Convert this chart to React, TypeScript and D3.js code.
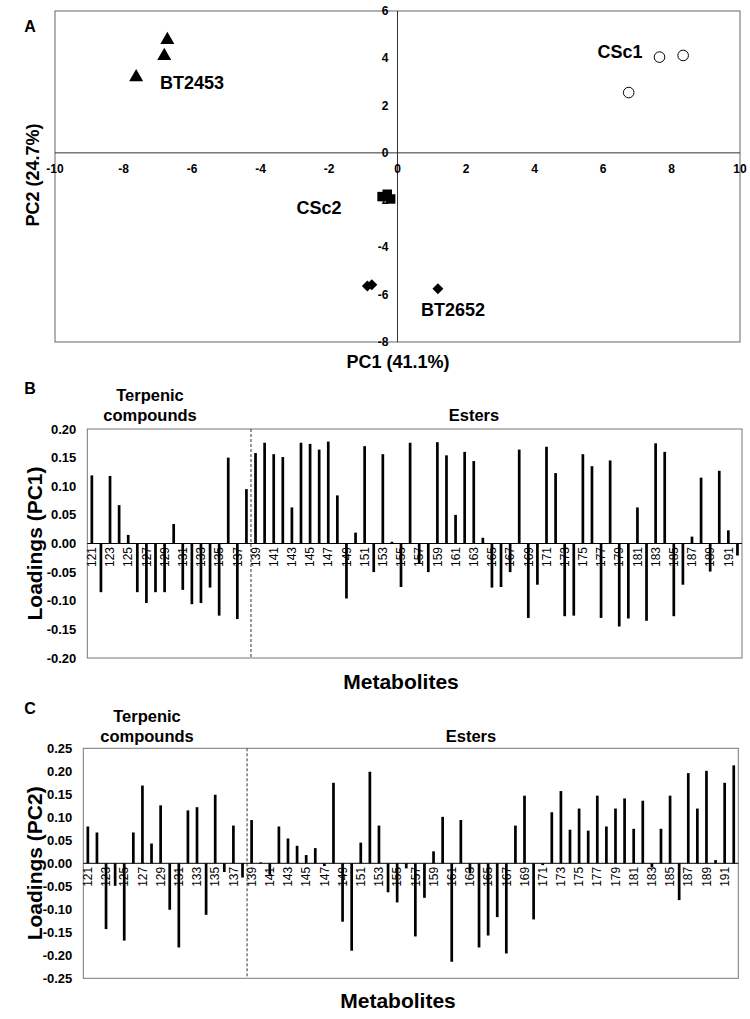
import React from "react";
import * as d3 from "d3";

// ---------- Panel A data (PCA scores) ----------
const bt2453 = [
  { x: -6.72, y: 4.78 },
  { x: -6.81, y: 4.1 },
  { x: -7.63, y: 3.2 },
];
const csc1 = [
  { x: 7.65, y: 4.05 },
  { x: 8.34, y: 4.12 },
  { x: 6.75, y: 2.55 },
];
const csc2 = [
  { x: -0.45, y: -1.85 },
  { x: -0.3, y: -1.75 },
  { x: -0.2, y: -1.95 },
];
const bt2652 = [
  { x: -0.88, y: -5.63 },
  { x: -0.75, y: -5.58 },
  { x: 1.18, y: -5.75 },
];
const pcaXTicks = [-10, -8, -6, -4, -2, 0, 2, 4, 6, 8, 10];
const pcaYTicks = [6, 4, 2, 0, -2, -4, -6, -8];

// ---------- Panels B & C data (loadings) ----------
const metabolites = [
  121, 122, 123, 124, 125, 126, 127, 128, 129, 130, 131, 132, 133, 134, 135, 136, 137, 138,
  139, 140, 141, 142, 143, 144, 145, 146, 147, 148, 149, 150, 151, 152, 153, 154, 155, 156,
  157, 158, 159, 160, 161, 162, 163, 164, 165, 166, 167, 168, 169, 170, 171, 172, 173, 174,
  175, 176, 177, 178, 179, 180, 181, 182, 183, 184, 185, 186, 187, 188, 189, 190, 191, 192,
];
const pc1Loadings = [
  0.119, -0.085, 0.118, 0.067, 0.015, -0.085, -0.104, -0.085, -0.085, 0.034, -0.081, -0.106,
  -0.104, -0.077, -0.126, 0.15, -0.132, 0.095,
  0.158, 0.176, 0.156, 0.151, 0.063, 0.176, 0.174, 0.164, 0.178, 0.084, -0.096, 0.019, 0.17,
  -0.05, 0.156, 0.003, -0.076, 0.176, -0.035, -0.05, 0.177, 0.154, 0.05, 0.16, 0.144, 0.01,
  -0.077, -0.076, -0.05, 0.164, -0.13, -0.072, 0.169, 0.123, -0.127, -0.126, 0.156, 0.135,
  -0.13, 0.145, -0.145, -0.131, 0.063, -0.135, 0.175, 0.16, -0.127, -0.072, 0.012, 0.115,
  -0.049, 0.127, 0.023, -0.021,
];
const pc2Loadings = [
  0.08, 0.067, -0.143, -0.049, -0.168, 0.067, 0.169, 0.043, 0.126, -0.101, -0.183, 0.115,
  0.122, -0.112, 0.149, -0.019, 0.082, -0.031,
  0.094, 0.002, -0.025, 0.08, 0.054, 0.038, 0.018, 0.033, -0.006, 0.175, -0.127, -0.19, 0.045,
  0.199, 0.082, -0.063, -0.085, -0.011, -0.159, -0.075, 0.026, 0.101, -0.214, 0.094, -0.022,
  -0.183, -0.157, -0.117, -0.196, 0.082, 0.147, -0.122, -0.004, 0.111, 0.157, 0.073, 0.119,
  0.071, 0.147, 0.08, 0.119, 0.141, 0.075, 0.136, -0.009, 0.075, 0.147, -0.08, 0.196, 0.119,
  0.201, 0.007, 0.175, 0.213,
];
const pc1Ticks = [0.2, 0.15, 0.1, 0.05, 0, -0.05, -0.1, -0.15, -0.2];
const pc2Ticks = [0.25, 0.2, 0.15, 0.1, 0.05, 0, -0.05, -0.1, -0.15, -0.2, -0.25];
const firstEster = 139;

const FONT = "'Liberation Sans', Arial, Helvetica, sans-serif";
const fmt = (v: number) => (Math.abs(v) < 1e-9 ? "0.00" : d3.format(".2f")(v).replace("−", "-"));

function ScatterPanel() {
  const x = d3.scaleLinear().domain([-10, 10]).range([55, 740]);
  const y = d3.scaleLinear().domain([-8, 6]).range([342, 11]);
  const tri = d3.symbol().type(d3.symbolTriangle).size(85)() as string;
  const sq = d3.symbol().type(d3.symbolSquare).size(90)() as string;
  const dia = d3.symbol().type(d3.symbolSquare).size(60)() as string;
  const x0 = x(0);
  const y0 = y(0);
  return (
    <g fontFamily={FONT}>
      <rect x={x(-10)} y={y(6)} width={x(10) - x(-10)} height={y(-8) - y(6)} fill="none" stroke="#666" strokeWidth={1} />
      <line x1={x(-10)} x2={x(10)} y1={y0} y2={y0} stroke="#333" strokeWidth={1} />
      <line x1={x0} x2={x0} y1={y(6)} y2={y(-8)} stroke="#333" strokeWidth={1} />
      {pcaXTicks.map((t) => (
        <text key={"xt" + t} x={x(t)} y={y0 + 20} fontSize={12} fontWeight="bold" textAnchor="middle">
          {t < 0 ? "-" + Math.abs(t) : t}
        </text>
      ))}
      {pcaYTicks.map((t) => (
        <text key={"yt" + t} x={x0 - 9} y={y(t) + 4} fontSize={12} fontWeight="bold" textAnchor="end">
          {t < 0 ? "-" + Math.abs(t) : t}
        </text>
      ))}
      {bt2453.map((d, i) => (
        <path key={"t" + i} d={tri} transform={`translate(${x(d.x)},${y(d.y)})`} fill="#000" />
      ))}
      {csc1.map((d, i) => (
        <circle key={"c" + i} cx={x(d.x)} cy={y(d.y)} r={5.3} fill="#fff" stroke="#000" strokeWidth={1} />
      ))}
      {csc2.map((d, i) => (
        <path key={"s" + i} d={sq} transform={`translate(${x(d.x)},${y(d.y)})`} fill="#000" />
      ))}
      {bt2652.map((d, i) => (
        <path key={"d" + i} d={dia} transform={`translate(${x(d.x)},${y(d.y)}) rotate(45)`} fill="#000" />
      ))}
      <text x={192} y={89} fontSize={18} fontWeight="bold" textAnchor="middle">BT2453</text>
      <text x={620} y={58} fontSize={18} fontWeight="bold" textAnchor="middle">CSc1</text>
      <text x={319} y={214} fontSize={18} fontWeight="bold" textAnchor="middle">CSc2</text>
      <text x={453} y={316} fontSize={18} fontWeight="bold" textAnchor="middle">BT2652</text>
      <text x={398} y={368} fontSize={18} fontWeight="bold" textAnchor="middle">PC1 (41.1%)</text>
      <text transform={`translate(39,175) rotate(-90)`} fontSize={18} fontWeight="bold" textAnchor="middle">PC2 (24.7%)</text>
      <text x={30} y={32} fontSize={16} fontWeight="bold" textAnchor="middle">A</text>
    </g>
  );
}

type LoadProps = {
  values: number[];
  ticks: number[];
  domain: [number, number];
  left: number;
  right: number;
  top: number;
  bottom: number;
  title: string;
  letter: string;
  letterY: number;
  terpX: number;
  terpY: number;
  esterX: number;
  esterY: number;
  metY: number;
  metX: number;
};

function LoadingsPanel(p: LoadProps) {
  const x = d3.scaleBand<number>().domain(metabolites).range([p.left, p.right]).padding(0);
  const y = d3.scaleLinear().domain(p.domain).range([p.bottom, p.top]);
  const bw = 2.7;
  const y0 = y(0);
  const divX = x(firstEster) as number;
  return (
    <g fontFamily={FONT}>
      <rect x={p.left} y={p.top} width={p.right - p.left} height={p.bottom - p.top} fill="none" stroke="#777" strokeWidth={1} />
      {p.ticks.map((t) => (
        <text key={"yt" + t} x={p.left - 11} y={y(t) + 4.5} fontSize={13} fontWeight="bold" textAnchor="end">
          {fmt(t)}
        </text>
      ))}
      <line x1={divX} x2={divX} y1={p.top} y2={p.bottom} stroke="#333" strokeWidth={1} strokeDasharray="3,2" />
      {metabolites.map((m, i) => {
        const v = p.values[i];
        const cx = (x(m) as number) + x.bandwidth() / 2;
        return (
          <rect key={"b" + m} x={cx - bw / 2} y={Math.min(y(v), y0)} width={bw} height={Math.abs(y(v) - y0)} fill="#000" />
        );
      })}
      <line x1={p.left} x2={p.right} y1={y0} y2={y0} stroke="#000" strokeWidth={1} />
      {metabolites.map((m, i) =>
        i % 2 === 0 ? (
          <text
            key={"xl" + m}
            transform={`translate(${(x(m) as number) + x.bandwidth() / 2 + 4.2},${y0 + 3.5}) rotate(-90)`}
            fontSize={12}
            textAnchor="end"
          >
            {m}
          </text>
        ) : null
      )}
      <text transform={`translate(42,${y0}) rotate(-90)`} fontSize={21} fontWeight="bold" textAnchor="middle">
        {p.title}
      </text>
      <text x={p.metX} y={p.metY} fontSize={21} fontWeight="bold" textAnchor="middle">Metabolites</text>
      <text x={p.terpX} y={p.terpY} fontSize={16.5} fontWeight="bold" textAnchor="middle">Terpenic</text>
      <text x={p.terpX} y={p.terpY + 20} fontSize={16.5} fontWeight="bold" textAnchor="middle">compounds</text>
      <text x={p.esterX} y={p.esterY} fontSize={16.5} fontWeight="bold" textAnchor="middle">Esters</text>
      <text x={30} y={p.letterY} fontSize={16} fontWeight="bold" textAnchor="middle">{p.letter}</text>
    </g>
  );
}

export default function App() {
  return (
    <svg
      width={750}
      height={1019}
      viewBox="0 0 750 1019"
      style={{ position: "absolute", left: 0, top: 0, background: "#fff" }}
    >
      <rect width={750} height={1019} fill="#fff" />
      <ScatterPanel />
      <LoadingsPanel
        values={pc1Loadings}
        ticks={pc1Ticks}
        domain={[-0.2, 0.2]}
        left={87.3}
        right={742}
        top={429}
        bottom={658}
        title="Loadings (PC1)"
        letter="B"
        letterY={394}
        terpX={150}
        terpY={401}
        esterX={474}
        esterY={421}
        metX={401}
        metY={689}
      />
      <LoadingsPanel
        values={pc2Loadings}
        ticks={pc2Ticks}
        domain={[-0.25, 0.25]}
        left={83.3}
        right={738.3}
        top={748.3}
        bottom={978.3}
        title="Loadings (PC2)"
        letter="C"
        letterY={714}
        terpX={147}
        terpY={722}
        esterX={471}
        esterY={742}
        metX={398}
        metY={1008}
      />
    </svg>
  );
}
